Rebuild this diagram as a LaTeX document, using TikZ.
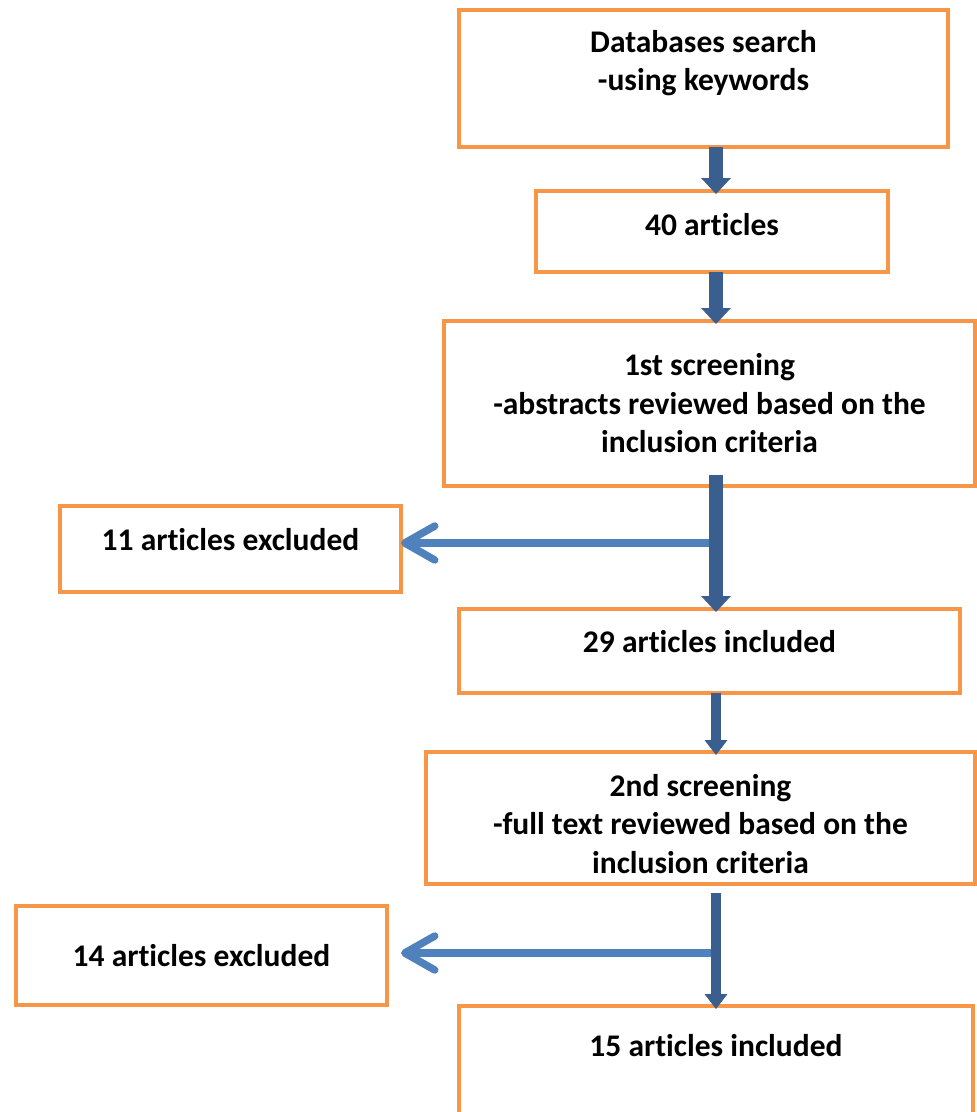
\documentclass[tikz,border=0pt]{standalone}
\usepackage{fontspec}
\setmainfont{Carlito}[Ligatures={NoCommon,NoRare}, RawFeature={-liga;-clig;-calt}]
\usetikzlibrary{arrows.meta}
\definecolor{boxorange}{HTML}{F79646}
\definecolor{darkarrow}{HTML}{3A5F8E}
\definecolor{lightarrow}{HTML}{4F81BD}
\tikzset{
  box/.style={draw=boxorange, line width=4pt, inner sep=0pt, outer sep=0pt, align=center,
    font=\bfseries\fontsize{31.5}{38.5}\selectfont},
  downarrow/.style={draw=darkarrow, line width=14pt, shorten >=-3pt,
    -{Triangle[length=16pt,width=30pt,line width=0pt]}},
  slimarrow/.style={draw=darkarrow, line width=10pt, shorten >=-3pt,
    -{Triangle[length=15pt,width=23pt,line width=0pt]}},
  sidearrow/.style={draw=lightarrow, line width=7.5pt,
    -{Straight Barb[length=30pt,width=34pt,round]}},
}
\begin{document}
\begin{tikzpicture}[x=1pt,y=-1pt]
  \useasboundingbox (0,0) rectangle (977,1112);
  \clip (0,0) rectangle (977,1112);
  \node[box, minimum width=489pt, minimum height=137pt, text depth=36pt] at (703.5,78.5) (db) {Databases search\\-using keywords};
  \node[box, minimum width=352pt, minimum height=81pt, text depth=14pt] at (712,231.5) (n40) {40 articles};
  \node[box, minimum width=531pt, minimum height=165pt] at (709.5,403.5) (scr1) {1st screening\\-abstracts reviewed based on the\\inclusion criteria};
  \node[box, minimum width=341pt, minimum height=86pt, text depth=20pt] at (230.5,549) (exc11) {11 articles excluded};
  \node[box, minimum width=501pt, minimum height=84pt, text depth=20pt] at (709.5,651) (inc29) {29 articles included};
  \node[box, minimum width=549pt, minimum height=132pt, text height=111pt] at (700.5,818) (scr2) {2nd screening\\-full text reviewed based on the\\inclusion criteria};
  \node[box, minimum width=371pt, minimum height=99pt] at (201.5,955.5) (exc14) {14 articles excluded};
  \node[box, minimum width=514pt, minimum height=144pt, text depth=66pt] at (716,1078) (inc15) {15 articles included};
  \coordinate (ax) at (716,0);
  \coordinate (split1) at (716,543);
  \coordinate (split2) at (716,953);
  \draw[sidearrow] (split1) -- (split1 -| exc11.east);
  \draw[sidearrow, shorten >=14pt] (split2) -- (split2 -| exc14.east);
  \draw[downarrow] (db.south -| ax) -- (n40.north -| ax);
  \draw[downarrow] (n40.south -| ax) -- (scr1.north -| ax);
  \draw[downarrow] ([yshift=11pt]scr1.south -| ax) -- (inc29.north -| ax);
  \draw[slimarrow] (inc29.south -| ax) -- (scr2.north -| ax);
  \draw[slimarrow] ([yshift=-9pt]scr2.south -| ax) -- (inc15.north -| ax);
\end{tikzpicture}
\end{document}
